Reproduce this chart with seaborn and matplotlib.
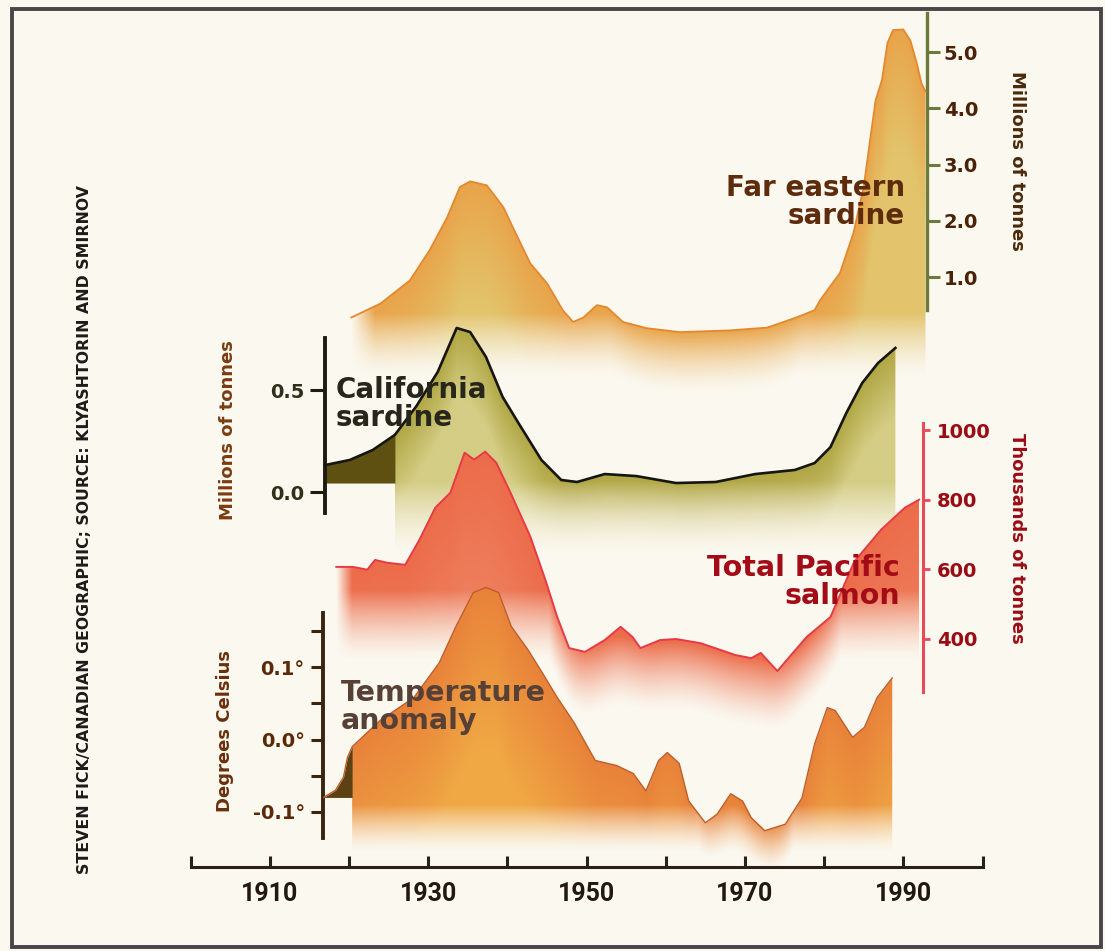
import numpy as np
import matplotlib
matplotlib.use("Agg")
import matplotlib.pyplot as plt
from matplotlib.colors import to_rgb
from matplotlib.patches import Rectangle
import seaborn as sns

plt.rcParams['font.family'] = ['DejaVu Sans']
plt.rcParams['font.weight'] = 'bold'

BG = '#fbf8ef'

# Far eastern sardine, millions of tonnes
fe_years = [1920.3, 1924.0, 1927.7, 1930.2, 1932.4, 1934.0, 1935.3, 1937.4, 1939.5, 1940.7,
            1942.9, 1945.0, 1947.0, 1948.3, 1949.6, 1951.3, 1952.6, 1954.6, 1957.6, 1961.8,
            1968.0, 1972.8, 1976.3, 1978.8, 1979.5, 1982.0, 1983.7, 1985.0, 1985.8, 1986.5,
            1987.3, 1988.0, 1988.7, 1990.0, 1990.9, 1991.7, 1992.3, 1992.8]
fe_vals = [0.28, 0.53, 0.94, 1.48, 2.06, 2.60, 2.70, 2.63, 2.24, 1.88,
           1.24, 0.89, 0.41, 0.20, 0.28, 0.50, 0.46, 0.20, 0.09, 0.02,
           0.05, 0.10, 0.27, 0.41, 0.59, 1.07, 1.78, 2.60, 3.43, 4.14,
           4.50, 5.16, 5.39, 5.40, 5.20, 4.80, 4.44, 4.30]

# California sardine, millions of tonnes
ca_years = [1917.0, 1920.1, 1923.0, 1925.8, 1928.5, 1931.2, 1933.6, 1935.3, 1937.3, 1939.4,
            1941.4, 1944.3, 1946.8, 1948.8, 1952.3, 1956.3, 1961.3, 1966.3, 1971.3, 1976.3,
            1978.8, 1980.8, 1982.8, 1984.8, 1986.8, 1989.0]
ca_vals = [0.132, 0.157, 0.206, 0.280, 0.420, 0.588, 0.804, 0.784, 0.662, 0.466,
           0.338, 0.157, 0.059, 0.049, 0.088, 0.078, 0.044, 0.049, 0.088, 0.108,
           0.142, 0.220, 0.387, 0.534, 0.632, 0.706]

# Total Pacific salmon, thousands of tonnes
sa_years = [1918.4, 1920.5, 1922.3, 1923.3, 1924.8, 1927.1, 1928.9, 1930.9, 1932.8, 1934.6,
            1935.8, 1937.2, 1938.6, 1940.4, 1942.9, 1944.8, 1946.3, 1947.8, 1949.8, 1952.3,
            1954.3, 1955.8, 1956.8, 1959.3, 1961.3, 1964.4, 1968.8, 1970.8, 1972.0, 1972.8,
            1974.1, 1975.3, 1977.8, 1980.8, 1983.8, 1987.2, 1990.2, 1992.0]
sa_vals = [607, 607, 599, 627, 619, 613, 685, 777, 820, 935,
           915, 938, 906, 820, 694, 570, 463, 374, 363, 397,
           435, 406, 374, 397, 400, 388, 354, 345, 360, 340,
           308, 340, 406, 463, 622, 714, 777, 800]

# Temperature anomaly, degrees Celsius
te_years = [1916.8, 1918.3, 1919.3, 1919.8, 1920.4, 1923.9, 1928.2, 1931.4, 1933.5, 1935.7,
            1937.3, 1938.9, 1940.5, 1942.6, 1944.2, 1946.3, 1948.5, 1951.1, 1953.8, 1955.9,
            1957.5, 1959.1, 1960.2, 1961.7, 1962.9, 1965.0, 1966.5, 1968.2, 1969.7, 1970.8,
            1972.5, 1975.1, 1977.2, 1978.8, 1980.4, 1981.4, 1983.6, 1985.1, 1986.7, 1988.6]
te_vals = [-0.080, -0.070, -0.052, -0.025, -0.010, 0.026, 0.058, 0.106, 0.156, 0.203,
           0.210, 0.203, 0.156, 0.124, 0.096, 0.058, 0.022, -0.029, -0.036, -0.047,
           -0.071, -0.029, -0.018, -0.033, -0.085, -0.115, -0.103, -0.075, -0.085, -0.108,
           -0.126, -0.117, -0.081, -0.006, 0.044, 0.040, 0.003, 0.017, 0.058, 0.085]

x_ticks = list(range(1900, 2001, 10))
x_labels = ['', '1910', '', '1930', '', '1950', '', '1970', '', '1990', '']
fe_ticks, fe_labels = [1, 2, 3, 4, 5], ['1.0', '2.0', '3.0', '4.0', '5.0']
ca_ticks, ca_labels = [0.0, 0.5], ['0.0', '0.5']
sa_ticks, sa_labels = [400, 600, 800, 1000], ['400', '600', '800', '1000']
te_ticks, te_labels = [-0.1, 0.0, 0.1], ['-0.1°', '0.0°', '0.1°']
te_minor = [-0.05, 0.05, 0.15]

W, HF = 1105, 951
AXB = 867.0          # pixel row of the time axis
X0, X1 = 190.6, 982.5

fig = plt.figure(figsize=(W / 100, HF / 100), dpi=100, facecolor=BG)
rect = [X0 / W, (HF - AXB) / HF, (X1 - X0) / W, AXB / HF]


def fx(p):
    return p / W


def fy(p):
    return 1 - p / HF


def make_ax(z, p_zero, k, v_zero=0.0):
    ax = fig.add_axes(rect, zorder=z)
    ax.patch.set_visible(False)
    for s in ax.spines.values():
        s.set_visible(False)
    lims = (v_zero + (p_zero - AXB) / k, v_zero + p_zero / k)
    return ax, lims


def finish(ax, lims):
    ax.set_xlim(1900, 2000)
    ax.set_ylim(*lims)
    ax.set_xticks([])
    ax.set_xlabel('')
    ax.set_ylabel('')
    ax.grid(False)


def smooth(v, n):
    k = np.exp(-0.5 * (np.arange(-3 * n, 3 * n + 1) / n) ** 2)
    k /= k.sum()
    return np.convolve(np.pad(v, 3 * n, mode='edge'), k, mode='valid')


def glow(ax, yrs, vals, floor, fade, c_top, c_bot, span, lfade=0.0):
    # soft airbrushed fill under a curve, fading out downwards
    yrs = np.asarray(yrs, float)
    vals = np.asarray(vals, float)
    gx = np.linspace(yrs[0], yrs[-1], 900)
    cur = np.interp(gx, yrs, vals)
    lo = min(vals.min(), floor) - fade
    hi = vals.max()
    gy = np.linspace(lo, hi, 700)
    X, Y = np.meshgrid(gx, gy)
    C = np.broadcast_to(cur, X.shape)
    start = np.broadcast_to(np.minimum(smooth(cur, 22), floor), X.shape)
    a = np.clip(1 - (start - Y) / fade, 0, 1) ** 1.4
    a[Y > C] = 0
    if lfade > 0:
        a *= np.clip((X - yrs[0]) / lfade, 0, 1)
    t = np.clip((C - Y) / span, 0, 1)[..., None]
    rgb = np.array(to_rgb(c_top)) * (1 - t) + np.array(to_rgb(c_bot)) * t
    rgba = np.dstack([rgb, a])
    im = ax.imshow(rgba, extent=[gx[0], gx[-1], lo, hi], origin='lower',
                   aspect='auto', interpolation='bilinear', zorder=1)
    poly = ax.fill_between(yrs, vals, lo, facecolor='none', edgecolor='none')
    im.set_clip_path(poly.get_paths()[0], transform=ax.transData)


# time axis
axx = fig.add_axes(rect, zorder=0)
axx.patch.set_visible(False)
for s in ['top', 'left', 'right']:
    axx.spines[s].set_visible(False)
axx.spines['bottom'].set_color('#2b2018')
axx.spines['bottom'].set_linewidth(2.2)
axx.set_xlim(1900, 2000)
axx.set_yticks([])
axx.set_xticks(x_ticks, x_labels)
axx.tick_params(axis='x', direction='in', length=8, width=2.2, color='#2b2018',
                labelsize=18, labelcolor='#22180f', pad=11, labelfontfamily='Roboto')

# far eastern sardine
ax_fe, lim_fe = make_ax(1, 333.25, 56.25)
glow(ax_fe, fe_years, fe_vals, 0.35, 1.1, '#e9a44a', '#e2c46c', 2.2, lfade=3.0)
sns.lineplot(x=fe_years, y=fe_vals, ax=ax_fe, color='#e4882e', lw=1.3, zorder=3)
finish(ax_fe, lim_fe)
sp = ax_fe.spines['right']
sp.set_visible(True)
sp.set_position(('data', 1993.0))
sp.set_bounds(0.41, 5.69)
sp.set_color('#6c7a3a')
sp.set_linewidth(2.4)
ax_fe.yaxis.tick_right()
ax_fe.set_yticks(fe_ticks, fe_labels)
ax_fe.tick_params(axis='y', right=True, left=False, direction='out', length=9, width=2.2,
                  color='#6c7a3a', labelcolor='#4a2206', labelsize=14, pad=3)

# california sardine
ax_ca, lim_ca = make_ax(2, 492.0, 204.0)
glow(ax_ca, ca_years[3:], ca_vals[3:], 0.05, 0.35, '#b0a644', '#d4cd84', 0.35)
ax_ca.fill_between(ca_years[:4], ca_vals[:4], 0.044, color='#5e5010', lw=0, zorder=2)
sns.lineplot(x=ca_years, y=ca_vals, ax=ax_ca, color='#161610', lw=1.9, zorder=3)
finish(ax_ca, lim_ca)
sp = ax_ca.spines['left']
sp.set_visible(True)
sp.set_position(('data', 1917.0))
sp.set_bounds(-0.103, 0.755)
sp.set_color('#1c1c10')
sp.set_linewidth(2.8)
ax_ca.yaxis.tick_left()
ax_ca.set_yticks(ca_ticks, ca_labels)
ax_ca.tick_params(axis='y', left=True, right=False, direction='out', length=11, width=2.2,
                  color='#1c1c10', labelcolor='#30301a', labelsize=14, pad=4)

# total pacific salmon
ax_sa, lim_sa = make_ax(3, 639.0, 0.3483, 400.0)
glow(ax_sa, sa_years, sa_vals, 540, 200, '#ec6c4a', '#f08c6c', 700, lfade=2.0)
sns.lineplot(x=sa_years, y=sa_vals, ax=ax_sa, color='#e63a48', lw=1.4, zorder=3)
finish(ax_sa, lim_sa)
sp = ax_sa.spines['right']
sp.set_visible(True)
sp.set_position(('data', 1992.5))
sp.set_bounds(248, 1020)
sp.set_color('#e8485a')
sp.set_linewidth(2.2)
ax_sa.yaxis.tick_right()
ax_sa.set_yticks(sa_ticks, sa_labels)
ax_sa.tick_params(axis='y', right=True, left=False, direction='out', length=5, width=2.0,
                  color='#e8485a', labelcolor='#9a0c14', labelsize=14, pad=5)

# temperature anomaly
ax_te, lim_te = make_ax(4, 739.5, 724.0)
glow(ax_te, te_years[4:], te_vals[4:], -0.09, 0.065, '#e8823a', '#f0a844', 0.22)
ax_te.fill_between(te_years[:5], te_vals[:5], -0.08, color='#5c4212', lw=0, zorder=2)
sns.lineplot(x=te_years, y=te_vals, ax=ax_te, color='#bf5e2a', lw=1.0, zorder=3)
finish(ax_te, lim_te)
sp = ax_te.spines['left']
sp.set_visible(True)
sp.set_position(('data', 1916.7))
sp.set_bounds(-0.136, 0.175)
sp.set_color('#3a2410')
sp.set_linewidth(2.8)
ax_te.yaxis.tick_left()
ax_te.set_yticks(te_ticks, te_labels)
ax_te.set_yticks(te_minor, minor=True)
ax_te.tick_params(axis='y', which='both', left=True, right=False, direction='out', length=9,
                  width=2.2, color='#3a2410', labelcolor='#5a2a08', labelsize=14, pad=4)

# series labels
fig.text(fx(905), fy(202), 'Far eastern\nsardine', ha='right', va='center', ma='right',
         fontsize=20, color='#5e2c0c', linespacing=1.0, zorder=10)
fig.text(fx(336), fy(404), 'California\nsardine', ha='left', va='center', ma='left',
         fontsize=20, color='#26261a', linespacing=1.0, zorder=10)
fig.text(fx(900), fy(582), 'Total Pacific\nsalmon', ha='right', va='center', ma='right',
         fontsize=20.5, color='#a30c16', linespacing=1.0, zorder=10)
fig.text(fx(341), fy(707), 'Temperature\nanomaly', ha='left', va='center', ma='left',
         fontsize=20.5, color='#574036', linespacing=1.0, zorder=10)

# axis titles
fig.text(fx(1017), fy(161), 'Millions of tonnes', rotation=-90, ha='center', va='center',
         fontsize=13, color='#4a2a08', zorder=10)
fig.text(fx(228), fy(430), 'Millions of tonnes', rotation=90, ha='center', va='center',
         fontsize=13, color='#7a3c10', zorder=10)
fig.text(fx(1017), fy(538), 'Thousands of tonnes', rotation=-90, ha='center', va='center',
         fontsize=13, color='#9a0c16', zorder=10)
fig.text(fx(225), fy(731), 'Degrees Celsius', rotation=90, ha='center', va='center',
         fontsize=13, color='#6a2e0a', zorder=10)

# credit line
fig.text(fx(85), fy(529), 'STEVEN FICK/CANADIAN GEOGRAPHIC; SOURCE: KLYASHTORIN AND SMIRNOV',
         rotation=90, ha='center', va='center', fontsize=11.3, color='#1e1a1a', zorder=10)

fig.add_artist(Rectangle((fx(12), fy(947)), (1101 - 12) / W, (947 - 9) / HF,
                         transform=fig.transFigure, fill=False, edgecolor='#4b4448',
                         lw=2.8, zorder=20))

fig.savefig('out.png', dpi=100, facecolor=BG)
